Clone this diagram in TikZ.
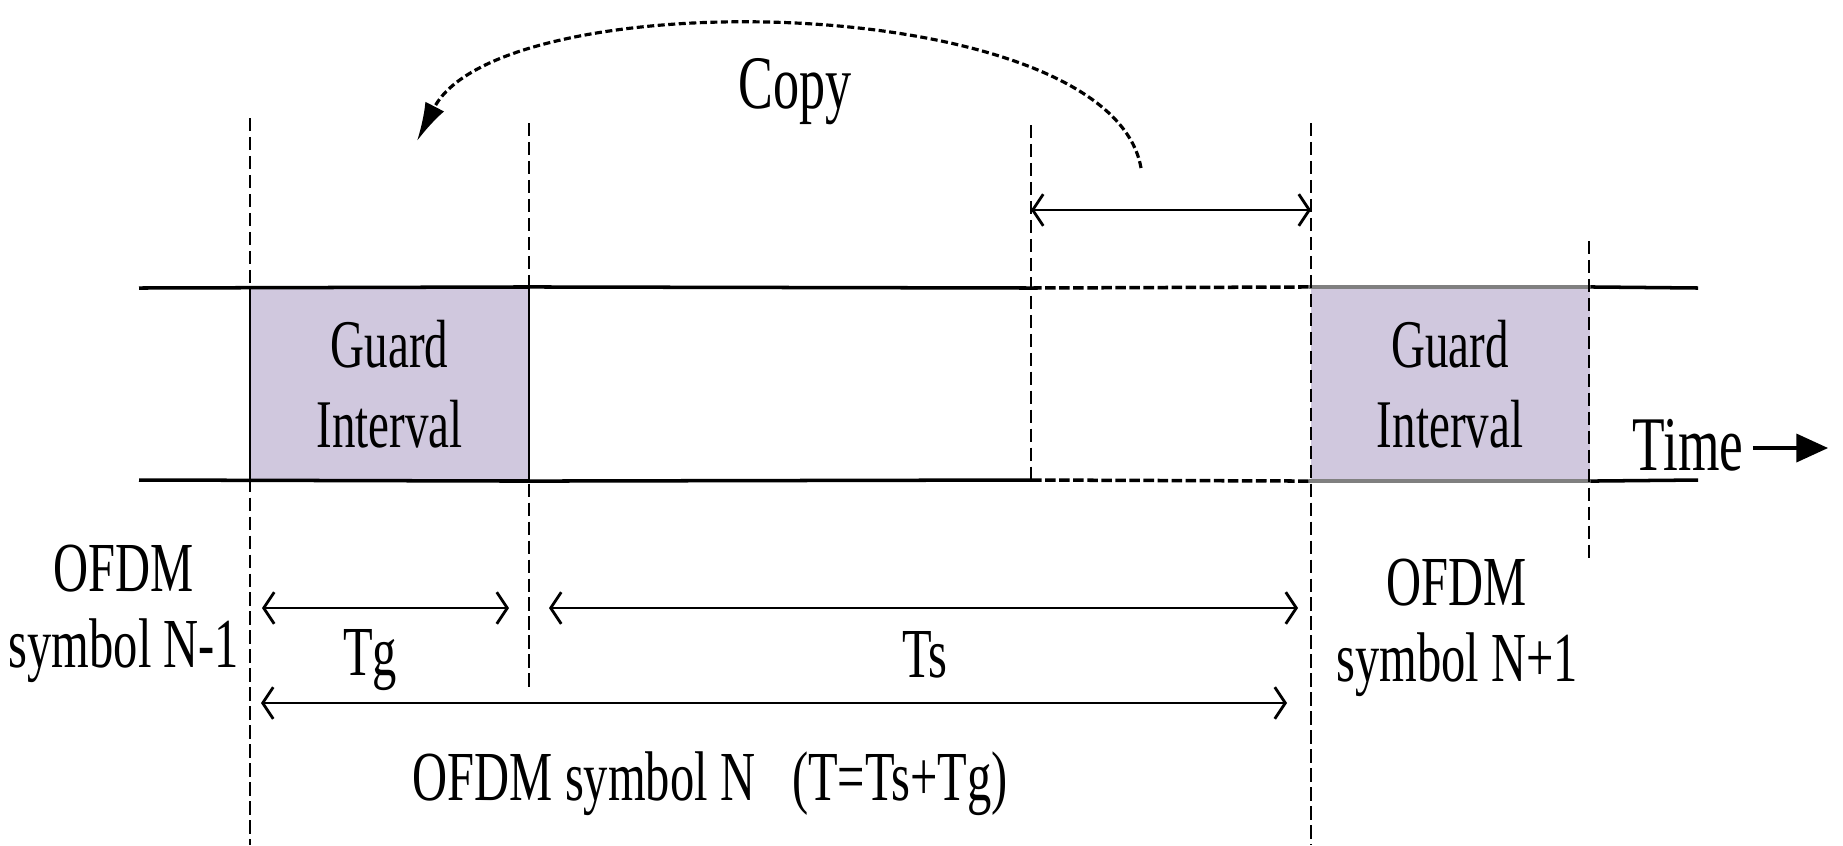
\documentclass[tikz,border=0pt]{standalone}
\usepackage{fontspec}
\setmainfont{Liberation Serif}[FakeStretch=0.69]
\usepackage{xcolor}
\usetikzlibrary{arrows.meta,positioning}
\definecolor{guardfill}{RGB}{208,200,222}

\begin{document}
\begin{tikzpicture}[
  >={Straight Barb[length=3pt,width=9pt]},
  every node/.style={inner sep=0pt, font=\fontsize{20pt}{21.6pt}\selectfont},
  guard/.style={draw=#1, line width=0.6pt, fill=guardfill, minimum width=2.79cm, minimum height=1.92cm, align=center, font=\fontsize{19.4pt}{22.8pt}\selectfont},
  guard/.default=black,
  rail/.style={line width=1pt},
  railcp/.style={line width=1pt, dash pattern=on 3pt off 1pt},
  bound/.style={line width=0.6pt, dash pattern=on 3.8pt off 1.6pt},
  span/.style={<->, line width=0.8pt},
  lab/.style={anchor=base}
]
\useasboundingbox (0,0) rectangle (18.43,-8.45);

% guard intervals
\node[guard] (gi1) at (3.895,-3.84) {Guard\\Interval};
\node[guard=none] (gi2) at (14.50,-3.84) {Guard\\Interval};
\draw[gray, line width=1pt] (gi2.north west) -- (gi2.north east);
\draw[gray, line width=1pt] (gi2.south west) -- (gi2.south east);

% the two rails
\draw[rail] (1.39,-2.88) -- (gi1.north east) -- (10.31,-2.88);
\draw[rail] (1.39,-4.80) -- (gi1.south east) -- (10.31,-4.80);
\draw[railcp] (10.31,-2.88) -- (gi2.north west);
\draw[railcp] (10.31,-4.80) -- (gi2.south west);
\draw[rail] (gi2.north east) -- (16.98,-2.88);
\draw[rail] (gi2.south east) -- (16.98,-4.80);

% symbol bounds
\draw[bound] (2.50,-1.18) -- (2.50,-8.45);
\draw[bound] (5.29,-1.23) -- (5.29,-6.90);
\draw[bound] (10.31,-1.25) -- (10.31,-4.80);
\draw[bound] (13.11,-1.23) -- (13.11,-8.45);
\draw[bound] (15.89,-2.41) -- (15.89,-5.58);

% durations
\coordinate (cpl) at (10.31,-2.10);
\coordinate (cpr) at (13.11,-2.10);
\draw[span] (cpl) -- (cpr);
\coordinate (tgl) at (2.62,-6.08);
\coordinate (tgr) at (5.09,-6.08);
\coordinate (tsl) at (5.49,-6.08);
\coordinate (tsr) at (12.98,-6.08);
\coordinate (tl) at (2.61,-7.03);
\coordinate (tr) at (12.87,-7.03);
\draw[span] (tgl) -- (tgr);
\draw[span] (tsl) -- (tsr);
\draw[span] (tl) -- (tr);

\node[lab] (tg) at (3.70,-6.75) {Tg};
\node[lab] (ts) at (9.25,-6.77) {Ts};
\node[lab] (symn) at (5.84,-8.00) {OFDM symbol N};
\node[lab] (teq) at (9.00,-8.00) {(T=Ts+Tg)};
\node[align=center] (symprev) at (1.24,-6.14) {OFDM\\symbol N-1};
\node[align=center] (symnext) at (14.57,-6.28) {OFDM\\symbol N+1};

% copy of the tail
\coordinate (cps) at (11.41,-1.68);
\coordinate (cpe) at (4.17,-1.41);
\draw[line width=0.9pt, dash pattern=on 2pt off 1pt, -{Latex[length=11pt,width=6pt]}]
  (cps) .. controls (11.10,0.10) and (5.00,0.20) .. (cpe);
\node[lab, font=\fontsize{21.5pt}{24pt}\selectfont] (copy) at (7.95,-1.08) {Copy};

% time axis
\node[lab, font=\fontsize{22pt}{24pt}\selectfont] (time) at (16.88,-4.70) {Time};
\coordinate (tend) at (18.28,-4.48);
\draw[line width=0.9pt, -{Triangle[length=9pt,width=8pt]}] ([xshift=2.5pt]time.east |- tend) -- (tend);
\end{tikzpicture}
\end{document}
